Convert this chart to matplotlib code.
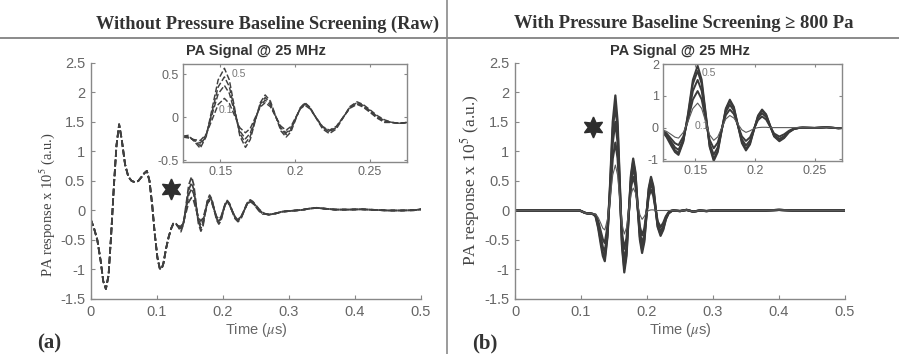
import matplotlib.pyplot as plt
from matplotlib.ticker import FuncFormatter

plt.rcParams['font.family'] = ['Liberation Sans', 'DejaVu Sans']
plt.rcParams['mathtext.fontset'] = 'stix'

# ---------------- (a) raw signals, dashed ----------------
raw_t_head = [0, 0.005, 0.010, 0.015, 0.019, 0.023, 0.027, 0.031, 0.035, 0.039,
              0.043, 0.047, 0.052, 0.057, 0.062, 0.067, 0.072, 0.077, 0.081, 0.085,
              0.089, 0.093, 0.097, 0.101, 0.1045, 0.107, 0.110, 0.114, 0.118, 0.122]
raw_v_head = [-0.15, -0.3, -0.5, -0.85, -1.2, -1.33, -1.1, -0.4, 0.4, 1.1,
              1.46, 1.2, 0.78, 0.57, 0.5, 0.48, 0.5, 0.57, 0.63, 0.67,
              0.5, 0.1, -0.4, -0.8, -0.98, -1.0, -0.9, -0.65, -0.45, -0.3]

raw_t_mid = [0.125, 0.1285, 0.1325, 0.1365, 0.1405, 0.1445, 0.1485, 0.1527, 0.156, 0.1595,
             0.163, 0.1668, 0.170, 0.1733, 0.1767, 0.180, 0.1835, 0.187, 0.1905, 0.194,
             0.1972, 0.2003, 0.2035, 0.2066, 0.210, 0.2141, 0.2185, 0.223, 0.2276, 0.2322,
             0.2368, 0.2415, 0.2455, 0.25, 0.255, 0.26]
raw_v_05 = [-0.22, -0.21, -0.28, -0.36, -0.225, 0.105, 0.435, 0.57, 0.435, 0.11,
            -0.215, -0.35, -0.26, -0.045, 0.17, 0.26, 0.188, 0.015, -0.158, -0.23,
            -0.171, -0.03, 0.111, 0.17, 0.117, -0.01, -0.137, -0.19, -0.136, -0.005,
            0.126, 0.18, 0.15, 0.09, 0.02, -0.03]
raw_v_04 = [-0.22, -0.22, -0.27, -0.33, -0.213, 0.07, 0.353, 0.47, 0.357, 0.085,
            -0.187, -0.3, -0.222, -0.035, 0.152, 0.23, 0.167, 0.015, -0.137, -0.2,
            -0.147, -0.02, 0.107, 0.16, 0.112, -0.005, -0.122, -0.17, -0.12, 0.0,
            0.12, 0.17, 0.14, 0.08, 0.01, -0.04]
raw_v_03 = [-0.23, -0.23, -0.27, -0.3, -0.202, 0.035, 0.272, 0.37, 0.279, 0.06,
            -0.159, -0.25, -0.184, -0.025, 0.134, 0.2, 0.144, 0.01, -0.124, -0.18,
            -0.132, -0.015, 0.102, 0.15, 0.105, -0.005, -0.115, -0.16, -0.113, 0.0,
            0.113, 0.16, 0.13, 0.07, 0.0, -0.05]
raw_v_01 = [-0.23, -0.24, -0.26, -0.27, -0.198, -0.025, 0.148, 0.22, 0.161, 0.02,
            -0.121, -0.18, -0.129, -0.005, 0.119, 0.17, 0.123, 0.01, -0.103, -0.15,
            -0.108, -0.005, 0.098, 0.14, 0.098, -0.005, -0.108, -0.15, -0.106, 0.0,
            0.106, 0.15, 0.12, 0.06, -0.01, -0.06]

raw_t_tail = [0.265, 0.27, 0.28, 0.29, 0.30, 0.31, 0.32, 0.33, 0.342, 0.355,
              0.37, 0.39, 0.41, 0.43, 0.45, 0.47, 0.49, 0.5]
raw_v_tail = [-0.06, -0.07, -0.05, -0.02, -0.01, 0.0, 0.01, 0.03, 0.045, 0.03,
              0.015, 0.015, 0.02, 0.01, 0.0, 0.0, 0.005, 0.02]

# ---------------- (b) screened signals, solid ----------------
scr_t_head = [0, 0.05, 0.098, 0.102, 0.106, 0.110, 0.114, 0.118]
scr_v_head = [0, 0, 0, -0.02, -0.04, -0.05, -0.05, -0.06]

scr_t_mid = [0.122, 0.126, 0.130, 0.133, 0.136, 0.140, 0.144, 0.148, 0.152, 0.1554,
             0.1588, 0.1621, 0.1655, 0.1689, 0.1722, 0.1756, 0.179, 0.1824, 0.1857, 0.1891,
             0.1925, 0.1959, 0.1992, 0.2026, 0.206, 0.2094, 0.2127, 0.2161, 0.2205, 0.2245,
             0.2285, 0.2325, 0.237]
scr_v_a = [-0.1, -0.3, -0.58, -0.77, -0.86, -0.45, 0.45, 1.5, 1.95, 1.51,
           0.45, -0.61, -1.05, -0.77, -0.085, 0.6, 0.88, 0.65, 0.08, -0.49,
           -0.72, -0.53, -0.075, 0.38, 0.57, 0.42, 0.07, -0.28, -0.43, -0.33,
           -0.15, -0.05, -0.01]
scr_v_b = [-0.09, -0.27, -0.52, -0.71, -0.8, -0.42, 0.4, 1.37, 1.78, 1.38,
           0.4, -0.58, -0.98, -0.72, -0.075, 0.565, 0.83, 0.61, 0.085, -0.44,
           -0.66, -0.485, -0.065, 0.355, 0.53, 0.395, 0.065, -0.265, -0.4, -0.31,
           -0.14, -0.05, -0.01]
scr_v_c = [-0.08, -0.23, -0.45, -0.62, -0.7, -0.37, 0.33, 1.15, 1.5, 1.155,
           0.325, -0.505, -0.85, -0.62, -0.065, 0.49, 0.72, 0.53, 0.08, -0.37,
           -0.56, -0.41, -0.055, 0.30, 0.45, 0.333, 0.05, -0.233, -0.35, -0.27,
           -0.12, -0.04, -0.01]
scr_v_d = [-0.07, -0.18, -0.36, -0.49, -0.55, -0.28, 0.25, 0.88, 1.15, 0.886,
           0.25, -0.386, -0.65, -0.47, -0.04, 0.39, 0.57, 0.425, 0.075, -0.275,
           -0.42, -0.305, -0.035, 0.235, 0.35, 0.255, 0.035, -0.185, -0.28, -0.21,
           -0.1, -0.03, 0.0]
scr_v_e = [-0.06, -0.12, -0.22, -0.3, -0.33, -0.15, 0.2, 0.6, 0.77, 0.6,
           0.185, -0.23, -0.4, -0.29, -0.01, 0.27, 0.38, 0.3, 0.115, -0.07,
           -0.15, -0.1, -0.03, 0.0, 0.01, 0.01, 0.0, 0.0, 0.0, 0.0,
           0.0, 0.0, 0.0]

scr_t_tail = [0.24, 0.25, 0.26, 0.27, 0.28, 0.29, 0.30, 0.32, 0.34, 0.36,
              0.38, 0.40, 0.42, 0.44, 0.46, 0.48, 0.5]
scr_v_tail = [0.0, -0.01, 0.01, -0.02, 0.0, -0.01, 0.0, 0.0, 0.0, 0.0,
              0.0, 0.01, 0.0, 0.0, 0.0, 0.0, 0.0]

star_a = (0.122, 0.36)
star_b = (0.118, 1.42)

GRAY = '#888888'
TXT = '#666666'
LINE = '#3a3a3a'
fmt = FuncFormatter(lambda v, p: '%g' % v)


def style_main(ax):
    ax.set_xlim(0, 0.5)
    ax.set_ylim(-1.5, 2.5)
    ax.set_xticks([0, 0.1, 0.2, 0.3, 0.4, 0.5])
    ax.set_yticks([-1.5, -1, -0.5, 0, 0.5, 1, 1.5, 2, 2.5])
    ax.xaxis.set_major_formatter(fmt)
    ax.yaxis.set_major_formatter(fmt)
    for s in ['top', 'right']:
        ax.spines[s].set_visible(False)
    for s in ['left', 'bottom']:
        ax.spines[s].set_color(GRAY)
        ax.spines[s].set_linewidth(1.0)
    ax.tick_params(direction='in', length=3, color=GRAY, labelcolor=TXT, labelsize=10.5, pad=4)
    ax.set_title('PA Signal @ 25 MHz', fontsize=10.5, fontweight='bold', color='#333333', pad=5.5)
    ax.set_xlabel('Time ($\\mu$s)', fontsize=10.5, color=TXT, labelpad=2)


def style_inset(ax, xlim, ylim, yticks):
    ax.set_xlim(*xlim)
    ax.set_ylim(*ylim)
    ax.set_xticks([0.15, 0.2, 0.25])
    ax.set_yticks(yticks)
    ax.xaxis.set_major_formatter(fmt)
    ax.yaxis.set_major_formatter(fmt)
    for s in ax.spines.values():
        s.set_color(GRAY)
        s.set_linewidth(1.0)
    ax.tick_params(direction='in', length=2.5, color=GRAY, labelcolor=TXT, labelsize=9,
                   top=True, right=True, pad=3)


fig = plt.figure(figsize=(8.99, 3.54), dpi=100)

ax1 = fig.add_axes([0.1009, 0.1554, 0.3674, 0.6667])
ax2 = fig.add_axes([0.5729, 0.1554, 0.3671, 0.6667])
in1 = fig.add_axes([0.2036, 0.5424, 0.2492, 0.2768])
in2 = fig.add_axes([0.7375, 0.5452, 0.1991, 0.2740])

raw_curves = [raw_v_05, raw_v_04, raw_v_03, raw_v_01]
scr_curves = [scr_v_a, scr_v_b, scr_v_c, scr_v_d, scr_v_e]

for ax, lw in [(ax1, 1.25), (in1, 1.05)]:
    for vals in raw_curves:
        ax.plot(raw_t_head + raw_t_mid + raw_t_tail, raw_v_head + vals + raw_v_tail,
                color='#404040', lw=lw, ls=(0, (4, 1.6)))

for ax, lw in [(ax2, 1.6), (in2, 1.4)]:
    for i, vals in enumerate(scr_curves):
        ax.plot(scr_t_head + scr_t_mid + scr_t_tail, scr_v_head + vals + scr_v_tail,
                color=LINE if i < 4 else '#5a5a5a', lw=lw if i < 4 else 0.8)

ax1.plot(*star_a, marker=(6, 1, 0), ms=15, color='#2e2e2e', mec='#2e2e2e')
ax2.plot(*star_b, marker=(6, 1, 0), ms=15, color='#2e2e2e', mec='#2e2e2e')

style_main(ax1)
style_main(ax2)
style_inset(in1, (0.125, 0.275), (-0.52, 0.62), [-0.5, 0, 0.5])
style_inset(in2, (0.123, 0.273), (-1.05, 2.0), [-1, 0, 1, 2])

in1.text(0.1575, 0.5, '0.5', fontsize=7.5, color='#777777', va='center')
in1.text(0.149, 0.08, '0.1', fontsize=7.5, color='#777777', va='center')
in2.text(0.155, 1.72, '0.5', fontsize=7.5, color='#777777', va='center')
in2.text(0.1495, 0.06, '0.1', fontsize=7.5, color='#777777', va='center')

# y labels (serif, like the paper)
fig.text(47 / 899, 1 - 205 / 354, 'PA response x 10$^5$ (a.u.)', rotation=90,
         family='Liberation Serif', fontsize=10.5, color='#444444', ha='center', va='center')
fig.text(470 / 899, 1 - 180 / 354, 'PA response x 10$^5$ (a.u.)', rotation=90,
         family='Liberation Serif', fontsize=12.5, color='#444444', ha='center', va='center')

# panel headers and separators
fig.text(267 / 899, 1 - 24 / 354, 'Without Pressure Baseline Screening (Raw)',
         family='Liberation Serif', fontweight='bold', fontsize=13.2, color='#333333',
         ha='center', va='center')
fig.text(684 / 899, 1 - 24 / 354, 'With Pressure Baseline Screening \u2265 800 Pa',
         family='Liberation Serif', fontweight='bold', fontsize=13.4, color='#333333',
         ha='center', va='center')
fig.text(37 / 899, 1 - 343 / 354, '(a)', family='Liberation Serif', fontweight='bold',
         fontsize=15, color='#333333', ha='left', va='center')
fig.text(472 / 899, 1 - 343 / 354, '(b)', family='Liberation Serif', fontweight='bold',
         fontsize=15, color='#333333', ha='left', va='center')

fig.add_artist(plt.Line2D([0, 1], [1 - 37.5 / 354] * 2, color='#8a8a8a', lw=1.4,
                          transform=fig.transFigure))
fig.add_artist(plt.Line2D([447 / 899] * 2, [0, 1], color='#8a8a8a', lw=1.2,
                          transform=fig.transFigure))

fig.savefig('out.png', dpi=100)
